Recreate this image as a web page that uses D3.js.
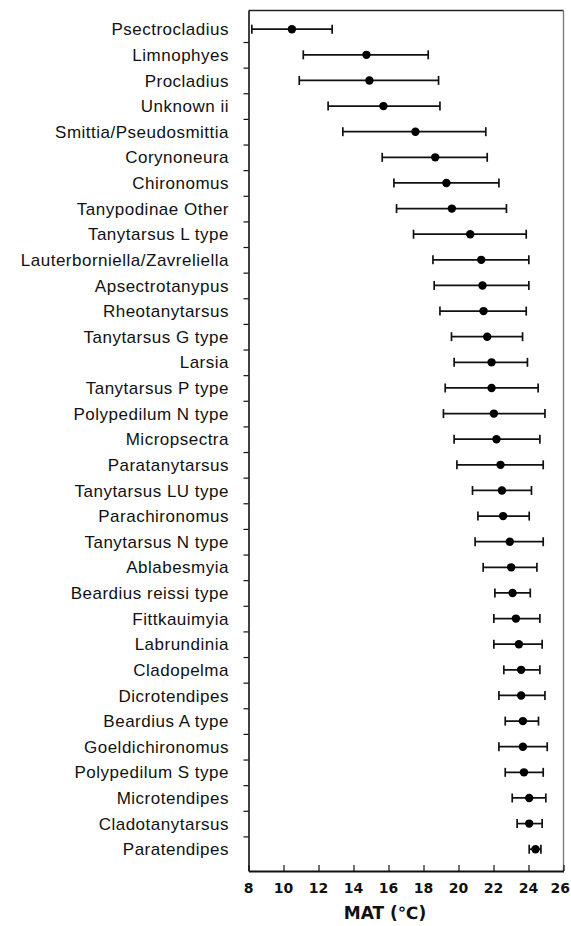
<!DOCTYPE html>
<html>
<head>
<meta charset="utf-8">
<script src="https://cdn.jsdelivr.net/npm/d3@7"></script>
<style>
  body { margin: 0; background: #fff; }
  .taxon { font-family: "Liberation Sans", Arial, sans-serif; font-size: 17px; letter-spacing: 0.5px; fill: #111; }
  .xtick { font-family: "DejaVu Sans", Verdana, sans-serif; font-weight: bold; font-size: 14px; fill: #111; }
  .xtitle { font-family: "DejaVu Sans", Verdana, sans-serif; font-weight: bold; font-size: 17px; fill: #111; }
</style>
</head>
<body>
<svg id="chart" width="571" height="926"></svg>
<script>
// taxa, top to bottom
const taxa = ["Psectrocladius", "Limnophyes", "Procladius", "Unknown ii", "Smittia/Pseudosmittia",
  "Corynoneura", "Chironomus", "Tanypodinae Other", "Tanytarsus L type", "Lauterborniella/Zavreliella",
  "Apsectrotanypus", "Rheotanytarsus", "Tanytarsus G type", "Larsia", "Tanytarsus P type",
  "Polypedilum N type", "Micropsectra", "Paratanytarsus", "Tanytarsus LU type", "Parachironomus",
  "Tanytarsus N type", "Ablabesmyia", "Beardius reissi type", "Fittkauimyia", "Labrundinia",
  "Cladopelma", "Dicrotendipes", "Beardius A type", "Goeldichironomus", "Polypedilum S type",
  "Microtendipes", "Cladotanytarsus", "Paratendipes"]

// MAT optimum (dot) and tolerance range (whiskers), °C
const optimum = [10.48, 14.74, 14.91, 15.71, 17.54, 18.67, 19.31, 19.62, 20.67, 21.30,
  21.37, 21.43, 21.64, 21.89, 21.89, 22.02, 22.17, 22.40, 22.48, 22.55,
  22.93, 23.01, 23.09, 23.28, 23.45, 23.58, 23.58, 23.68, 23.68, 23.74,
  24.04, 24.04, 24.40]
const lower = [8.19, 11.13, 10.90, 12.55, 13.39, 15.64, 16.31, 16.46, 17.43, 18.54,
  18.61, 18.94, 19.60, 19.75, 19.24, 19.14, 19.75, 19.91, 20.80, 21.11,
  20.95, 21.41, 22.08, 22.02, 22.02, 22.59, 22.31, 22.67, 22.31, 22.67,
  23.07, 23.35, 24.04]
const upper = [12.78, 18.27, 18.86, 18.94, 21.56, 21.64, 22.31, 22.74, 23.87, 24.02,
  24.02, 23.87, 23.66, 23.94, 24.55, 24.94, 24.65, 24.84, 24.17, 24.04,
  24.84, 24.48, 24.10, 24.65, 24.78, 24.65, 24.94, 24.57, 25.07, 24.84,
  24.99, 24.78, 24.71]

const xTicks = [8, 10, 12, 14, 16, 18, 20, 22, 24, 26]

const data = taxa.map((name, i) => ({ name, i, opt: optimum[i], lo: lower[i], hi: upper[i] }))

const svg = d3.select("#chart")
const plotLeft = 248.5, plotRight = 563.5, plotTop = 10.5, plotBottom = 871

const x = d3.scaleLinear().domain([8, 26]).range([plotLeft, plotRight])
const y = d3.scaleLinear().domain([-0.73, 32.85]).range([plotTop, plotBottom])

// frame (top + right)
svg.append("line").attr("x1", plotLeft).attr("x2", plotRight).attr("y1", plotTop).attr("y2", plotTop)
  .attr("stroke", "#222").attr("stroke-width", 1.3)
svg.append("line").attr("x1", plotRight).attr("x2", plotRight).attr("y1", plotTop).attr("y2", plotBottom)
  .attr("stroke", "#777").attr("stroke-width", 1.3)

// y axis: ticks between categories, pointing out
const yTickVals = d3.range(0, taxa.length - 1).map(i => i + 0.5)
svg.append("g")
  .attr("transform", `translate(${plotLeft},0)`)
  .call(d3.axisLeft(y).tickValues(yTickVals).tickSize(5).tickFormat("").tickSizeOuter(0))
  .call(g => g.select(".domain").attr("stroke", "#111").attr("stroke-width", 1.6))
  .call(g => g.selectAll(".tick line").attr("stroke", "#111").attr("stroke-width", 1.2))

// taxon labels
svg.append("g").selectAll("text")
  .data(data)
  .enter()
  .append("text")
  .attr("class", "taxon")
  .attr("x", 229)
  .attr("y", d => y(d.i))
  .attr("dy", "0.36em")
  .attr("text-anchor", "end")
  .text(d => d.name)

// x axis: ticks inside (pointing up)
svg.append("g")
  .attr("transform", `translate(0,${plotBottom})`)
  .call(d3.axisBottom(x).tickValues(xTicks).tickSize(-6).tickSizeOuter(0).tickFormat(""))
  .call(g => g.select(".domain").attr("stroke", "#111").attr("stroke-width", 2))
  .call(g => g.selectAll(".tick line").attr("stroke", "#111").attr("stroke-width", 1.2))

// last label is pushed left a little so it stays inside the page
svg.append("g").selectAll("text")
  .data(xTicks)
  .enter()
  .append("text")
  .attr("class", "xtick")
  .attr("x", (d, i) => i === xTicks.length - 1 ? 570 : x(d))
  .attr("y", 893)
  .attr("text-anchor", (d, i) => i === xTicks.length - 1 ? "end" : "middle")
  .text(d => d)

svg.append("text")
  .attr("class", "xtitle")
  .attr("x", 385)
  .attr("y", 919)
  .attr("text-anchor", "middle")
  .text("MAT (℃)")

// error bars
const bars = svg.append("g").selectAll("g")
  .data(data)
  .enter()
  .append("g")
  .attr("stroke", "#111")
  .attr("stroke-width", 1.7)

bars.append("line")
  .attr("x1", d => x(d.lo)).attr("x2", d => x(d.hi))
  .attr("y1", d => y(d.i)).attr("y2", d => y(d.i))
bars.append("line")
  .attr("x1", d => x(d.lo)).attr("x2", d => x(d.lo))
  .attr("y1", d => y(d.i) - 4.5).attr("y2", d => y(d.i) + 4.5)
bars.append("line")
  .attr("x1", d => x(d.hi)).attr("x2", d => x(d.hi))
  .attr("y1", d => y(d.i) - 4.5).attr("y2", d => y(d.i) + 4.5)

// optimum dots
svg.append("g").selectAll("circle")
  .data(data)
  .enter()
  .append("circle")
  .attr("cx", d => x(d.opt))
  .attr("cy", d => y(d.i))
  .attr("r", 4.2)
  .attr("fill", "#000")
</script>
</body>
</html>
